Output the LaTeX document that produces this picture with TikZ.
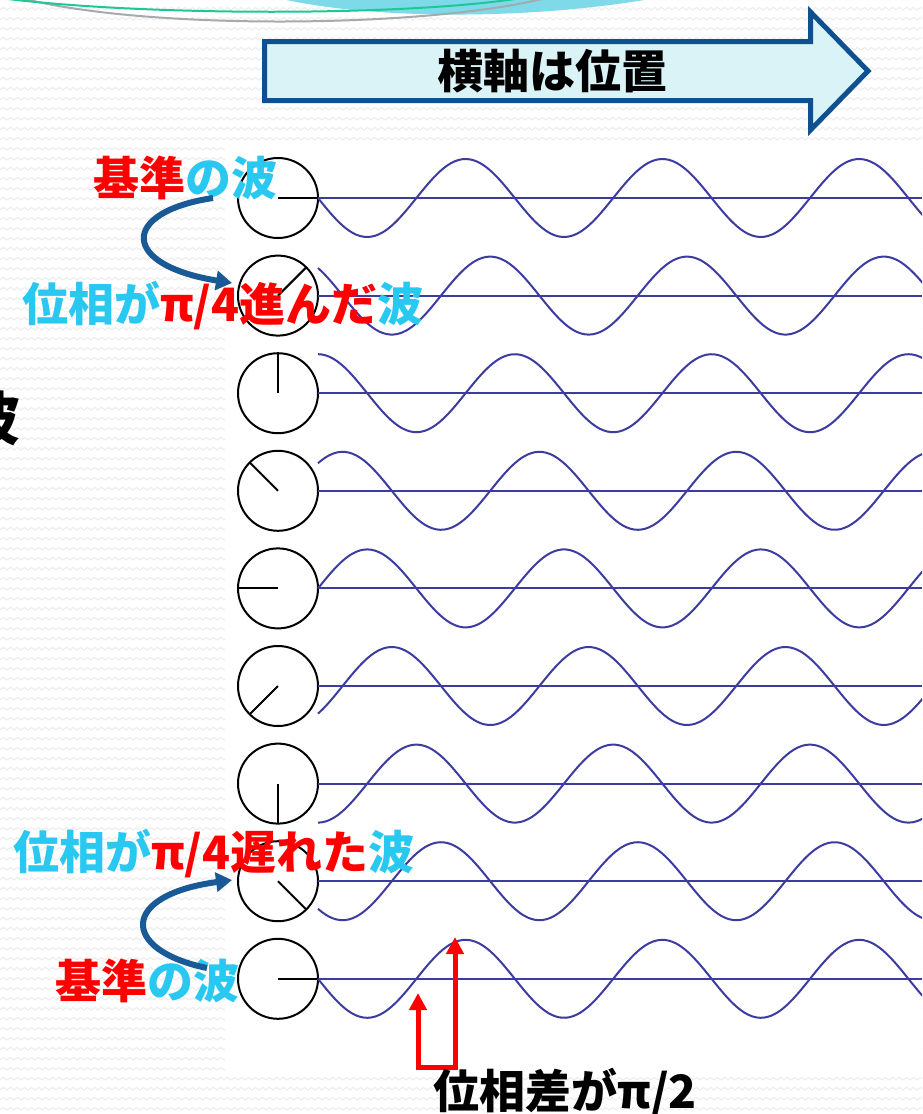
\documentclass[tikz,border=0pt]{standalone}
\usepackage{fontspec}
\newfontfamily\jp{Noto Sans CJK JP}
\usetikzlibrary{arrows.meta,patterns}
\definecolor{wavecol}{RGB}{60,60,160}
\definecolor{cyanlbl}{RGB}{40,200,240}
\definecolor{curvecol}{RGB}{25,90,150}
\definecolor{arrborder}{RGB}{15,80,145}
\definecolor{arrfill}{RGB}{218,243,247}
\definecolor{topcyan}{RGB}{126,217,232}
\definecolor{topgreen}{RGB}{30,200,150}
\definecolor{topgray}{RGB}{165,170,172}
\pgfdeclarepatternformonly{zigzagbg}{\pgfpoint{-1pt}{-1pt}}{\pgfpoint{8pt}{11pt}}{\pgfpoint{7pt}{10pt}}{%
  \pgfsetlinewidth{0.9pt}%
  \pgfpathmoveto{\pgfpoint{0pt}{4pt}}%
  \pgfpathlineto{\pgfpoint{3.5pt}{6.5pt}}%
  \pgfpathlineto{\pgfpoint{7pt}{4pt}}%
  \pgfusepath{stroke}}
\tikzset{
  wave/.style={draw=wavecol, line width=2pt},
  axisline/.style={draw=wavecol, line width=2pt},
  dial/.style={circle, draw=black, line width=2pt, minimum size=80pt, inner sep=0pt, outer sep=0pt},
  hand/.style={draw=black, line width=2pt},
  lbl/.style={font=\jp\bfseries\fontsize{46}{46}\selectfont, inner sep=0pt, anchor=west},
  blk/.style={font=\jp\bfseries\fontsize{46}{46}\selectfont, inner sep=0pt, text=black},
  bendarrow/.style={draw=curvecol, line width=6pt, -{Triangle[length=16pt,width=19pt]}},
  redarrow/.style={draw=red, line width=5pt, line join=miter, {Triangle[length=17pt,width=17pt]}-{Triangle[length=17pt,width=17pt]}},
  bigarrow/.style={draw=arrborder, fill=arrfill, line width=5pt, line join=miter},
}
\begin{document}
\begin{tikzpicture}[x=1pt,y=-1pt]
\useasboundingbox (0,0) rectangle (922,1114);
\clip (0,0) rectangle (922,1114);
% background
\fill[white] (0,0) rectangle (922,1114);
\fill[pattern=zigzagbg, pattern color=black!8] (0,0) rectangle (922,1114);
\fill[white] (225,143) rectangle (922,1072);
% top decoration
\fill[topcyan] (278,-2) .. controls (360,18) and (520,22) .. (656,-2) -- cycle;
\draw[topgray, line width=2pt] (25,-1) .. controls (150,30) and (420,28) .. (542,-1);
\draw[topgreen, line width=2pt] (8,-1) .. controls (150,16) and (400,16) .. (515,-1);
% title arrow
\draw[bigarrow] (264.5,41.5) -- (810.5,41.5) -- (810.5,12) -- (868,71) -- (810.5,130) -- (810.5,100.5) -- (264.5,100.5) -- cycle;
\node[blk] (title) at (552,71) {横軸は位置};
% cut-off character at left edge (cut off in the reference as well)
\node[font=\jp\bfseries\fontsize{58}{58}\selectfont, inner sep=0pt, anchor=east] (cut) at (21,418) {波};
% rows
\foreach \i/\th in {1/0,2/45,3/90,4/135,5/180,6/225,7/270,8/315,9/0}{
  \pgfmathsetmacro\yy{198+(\i-1)*97.6}
  \node[dial] (c\i) at (278,\yy) {};
  \coordinate (e\i) at (922,\yy);
  \draw[axisline] (c\i.east) -- (e\i);
  \draw[hand] (c\i.center) -- (c\i.\th);
  \draw[wave] plot[domain=318:924, samples=160, smooth] (\x, {\yy - 39*sin(\th - (\x-318)*1.8293)});
}
% labels
\node[lbl] (ref1) at (93,178) {\textcolor{red}{基準}\textcolor{cyanlbl}{の波}};
\node[lbl] (adv) at (22,306) {\textcolor{cyanlbl}{位相が}\textcolor{red}{π/4進んだ}\textcolor{cyanlbl}{波}};
\node[lbl] (lag) at (13,854) {\textcolor{cyanlbl}{位相が}\textcolor{red}{π/4遅れた}\textcolor{cyanlbl}{波}};
\node[lbl] (ref2) at (55,981) {\textcolor{red}{基準}\textcolor{cyanlbl}{の波}};
% curved arrows
\coordinate (s1) at (213,198);
\coordinate (t1) at (232,283);
\draw[bendarrow] (s1) .. controls (120,212) and (120,265) .. (t1);
\coordinate (s2) at (207,968);
\coordinate (t2) at (232,880);
\draw[bendarrow] (s2) .. controls (120,950) and (120,895) .. (t2);
% phase difference
\coordinate (p1) at (418,993);
\coordinate (p2) at (455,937);
\coordinate (q1) at (418,1067);
\coordinate (q2) at (455,1067);
\draw[redarrow] (p1) -- (q1) -- (q2) -- (p2);
\node[blk] (diff) at (565,1093) {位相差がπ/2};
\end{tikzpicture}
\end{document}
